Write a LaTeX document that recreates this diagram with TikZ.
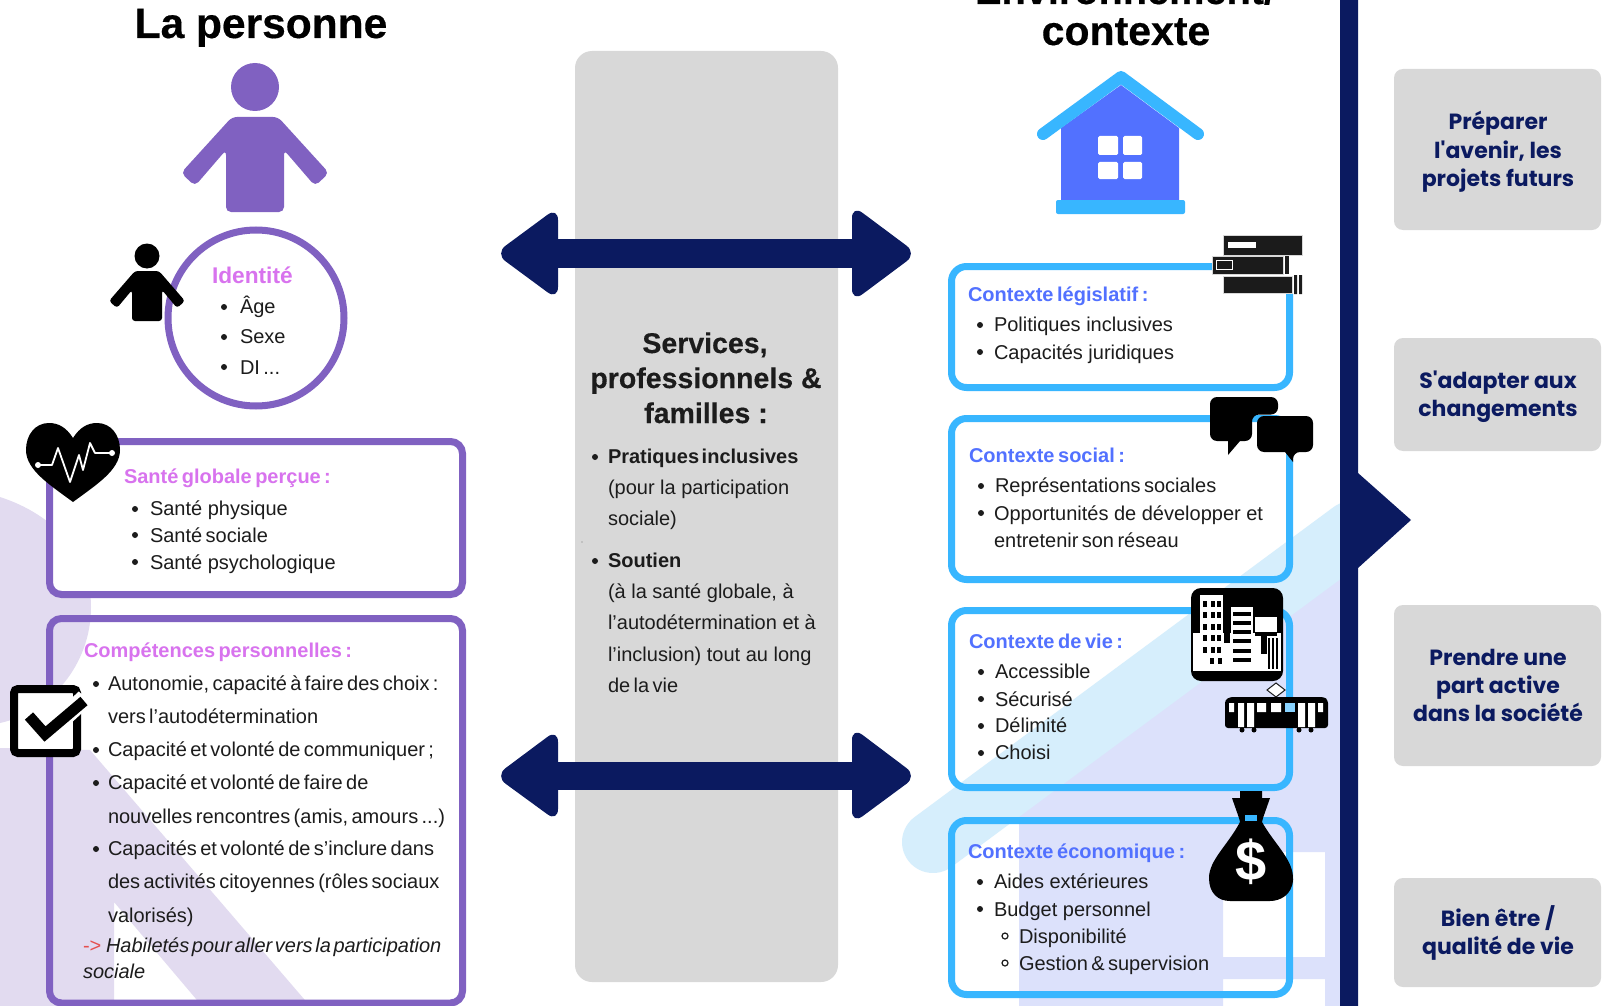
\documentclass[tikz,border=0pt]{standalone}
\usepackage{fontspec}
\setmainfont{Liberation Sans}
\newfontfamily\popf{Poppins}
\newfontfamily\titlef[BoldFeatures={FakeBold=0.4}]{Liberation Sans}
\definecolor{navy}{HTML}{0B1A60}
\definecolor{purp}{HTML}{8061C1}
\definecolor{pink}{HTML}{D873EE}
\definecolor{sky}{HTML}{38B6FF}
\definecolor{blu}{HTML}{5271FF}
\definecolor{gris}{HTML}{D8D8D8}
\definecolor{lav}{HTML}{E2DBF0}
\definecolor{lblu}{HTML}{DCE1FB}
\definecolor{stripe}{HTML}{D6EEFC}
\definecolor{ink}{HTML}{1C1C1C}
\definecolor{redd}{HTML}{E5504F}
\newcommand{\tspa}{\spaceskip=.17em\relax}
\newcommand{\tspb}{\spaceskip=.13em\relax}
\newcommand{\tspc}{\spaceskip=.18em\relax}
\tikzset{
 x=1pt,y=-1pt,
 every node/.style={inner sep=0pt,outer sep=0pt},
 body/.style={anchor=base west,text=ink,font=\fontsize{20}{24}\selectfont},
 tight/.style={anchor=base west,text=ink,font=\fontsize{20}{24}\selectfont,execute at begin node=\tspa},
 ital/.style={anchor=base west,text=ink,font=\fontsize{20}{24}\selectfont\itshape,execute at begin node=\tspb},
 bhead/.style={anchor=base west,text=ink,font=\fontsize{20}{24}\selectfont\bfseries,execute at begin node=\tspb},
 phead/.style={anchor=base west,text=pink,font=\fontsize{20}{24}\selectfont\bfseries,execute at begin node=\tspa},
 chead/.style={anchor=base west,text=blu,font=\fontsize{20}{24}\selectfont\bfseries,execute at begin node=\tspc},
 title/.style={anchor=base,text=black,font=\titlef\fontsize{41}{48}\selectfont\bfseries},
 stitle/.style={anchor=base,text=ink,font=\titlef\fontsize{28.5}{32}\selectfont\bfseries},
 rtxt/.style={anchor=base,text=navy,font=\popf\fontsize{22}{26}\selectfont\bfseries},
 pbox/.style={draw=purp,line width=7pt,rounded corners=12pt},
 cbox/.style={draw=sky,line width=7pt,rounded corners=15pt},
 gbox/.style={fill=gris,rounded corners=9pt},
 dhead/.style={fill=navy,rounded corners=13pt},
 bookc/.style={fill=ink!95!black,draw=gris,line width=0.8pt},
}
\newcommand{\Tx}[5]{\node[#1] (#2) at (#3,#4) {#5};}
\newcommand{\Bu}[2]{\fill[ink] (#1,#2) circle (3pt);}
\newcommand{\Bo}[2]{\draw[ink,line width=1.2pt] (#1,#2) circle (3pt);}
\begin{document}
\begin{tikzpicture}
\useasboundingbox (0,0) rectangle (1604,1006);
\fill[white] (0,0) rectangle (1604,1006);
% ---- backgrounds
\fill[lav] (0,497) .. controls (55,515) and (91,555) .. (91,607) .. controls (91,665) and (50,712) .. (0,723) -- cycle;
\fill[lav] (0,748) -- (90,750) -- (310,1006) -- (202,1006) -- (114,902) -- (114,1006) -- (0,1006) -- cycle;
\fill[lblu,even odd rule] (1019,808) -- (1340,575) -- (1340,1006) -- (1019,1006) -- cycle
  (1223,852) rectangle (1325,957) (1223,979) rectangle (1325,1006);
\begin{scope}
\clip (880,480) rectangle (1340,900);
\draw[stripe,line width=62pt,line cap=round] (933,842) -- (1352,532);
\end{scope}
% ---- grey column
\fill[gris,rounded corners=17pt] (575,51) rectangle (838,982);
% ---- double arrows
\fill[navy] (556,239) rectangle (854,268);
\fill[dhead] (852,205) -- (917,253.5) -- (852,302) -- cycle;
\fill[dhead] (558,207) -- (495,253.5) -- (558,300) -- cycle;
\fill[navy] (556,762) rectangle (854,790);
\fill[dhead] (852,727) -- (917,776) -- (852,824) -- cycle;
\fill[dhead] (558,729) -- (495,776) -- (558,822) -- cycle;
% ---- navy bar
\fill[navy] (1340,0) -- (1358,0) -- (1358,473) -- (1411,520) -- (1358,568) -- (1358,1006) -- (1340,1006) -- cycle;
% ---- right boxes
\fill[gbox] (1394,69) rectangle (1601,230);
\fill[gbox] (1394,338) rectangle (1601,451);
\fill[gbox] (1394,605) rectangle (1601,766);
\fill[gbox] (1394,878) rectangle (1601,987);
\Tx{rtxt}{r1a}{1498}{130}{Préparer}
\Tx{rtxt}{r1b}{1498}{158}{l'avenir, les}
\Tx{rtxt}{r1c}{1498}{186}{projets futurs}
\Tx{rtxt}{r2a}{1498}{388}{S'adapter aux}
\Tx{rtxt}{r2b}{1498}{416}{changements}
\Tx{rtxt}{r3a}{1498}{665}{Prendre une}
\Tx{rtxt}{r3b}{1498}{693}{part active}
\Tx{rtxt}{r3c}{1498}{721}{dans la société}
\Tx{rtxt}{r4a}{1498}{926}{Bien être /}
\Tx{rtxt}{r4b}{1498}{954}{qualité de vie}
% ---- titles
\Tx{title,font=\titlef\fontsize{42.5}{48}\selectfont\bfseries}{t1}{261}{38}{La personne}
\Tx{title,font=\titlef\fontsize{39.7}{48}\selectfont\bfseries}{t2a}{1125}{4}{Environnement/}
\Tx{title}{t2b}{1126}{45}{contexte}
% ---- purple person
\fill[purp] (255,87) circle (24pt);
\fill[purp,rounded corners=5pt] (232,117) -- (278,117) -- (329,173) -- (315,186) -- (284,150) -- (284,212) -- (226,212) -- (226,150) -- (195,186) -- (181,173) -- cycle;
% ---- identity circle
\draw[purp,fill=white,line width=7pt] (256,318) circle (88pt);
\fill[black] (147,256) circle (12.5pt);
\fill[black,rounded corners=3pt] (135,271) -- (159,271) -- (185,301) -- (177,308) -- (162,290) -- (162,321) -- (132,321) -- (132,290) -- (117,308) -- (109,301) -- cycle;
\Tx{phead,font=\fontsize{22.7}{24}\selectfont\bfseries}{id}{212}{283}{Identité}
\Bu{224}{307}\Tx{body}{id1}{240}{313}{Âge}
\Bu{224}{337}\Tx{body}{id2}{240}{343}{Sexe}
\Bu{224}{367}\Tx{tight}{id3}{240}{374}{DI ...}
% ---- santé box
\draw[pbox,fill=white] (49.5,441.5) rectangle (462.5,594.5);
\fill[black] (73,438) .. controls (66,427) and (58,423) .. (49,423) .. controls (35,423) and (26,435) .. (26,450) .. controls (26,470) and (50,485) .. (73,502) .. controls (96,485) and (120,470) .. (120,450) .. controls (120,435) and (111,423) .. (97,423) .. controls (88,423) and (80,427) .. (73,438) -- cycle;
\draw[white,line width=1.8pt,line join=round] (38,465) -- (52,465) -- (58,448) -- (70,482) -- (79,455) -- (83,470) -- (90,443) -- (95,453) -- (112,453);
\fill[white] (38,465) circle (3pt) (112,453) circle (3pt);
\Tx{phead}{sa}{124}{483.5}{Santé globale perçue :}
\Bu{135}{509}\Tx{body}{sa1}{150}{515}{Santé physique}
\Bu{135}{535}\Tx{tight}{sa2}{150}{542}{Santé sociale}
\Bu{135}{562}\Tx{body}{sa3}{150}{569}{Santé psychologique}
% ---- compétences box
\draw[pbox] (49.5,618.5) rectangle (462.5,1003);
\Tx{phead}{co}{84}{657}{Compétences personnelles :}
\Bu{96}{684}\Tx{tight}{c1a}{108}{690}{Autonomie, capacité à faire des choix :}
\Tx{tight}{c1b}{108}{723}{vers l’autodétermination}
\Bu{96}{750}\Tx{tight}{c2}{108}{756}{Capacité et volonté de communiquer ;}
\Bu{96}{783}\Tx{tight}{c3a}{108}{789}{Capacité et volonté de faire de}
\Tx{tight}{c3b}{108}{823}{nouvelles rencontres (amis, amours ...)}
\Bu{96}{849}\Tx{tight}{c4a}{108}{855}{Capacités et volonté de s’inclure dans}
\Tx{tight}{c4b}{108}{888}{des activités citoyennes (rôles sociaux}
\Tx{tight}{c4c}{108}{922}{valorisés)}
\Tx{body,text=redd}{ar}{83}{952}{->}
\Tx{ital}{c5a}{106}{952}{Habiletés pour aller vers la participation}
\Tx{ital}{c5b}{83}{978}{sociale}
% ---- checkbox
\draw[black,fill=white,line width=8pt,rounded corners=4pt] (14,689) rectangle (77,753);
\draw[white,line width=18pt] (31,718) -- (45,735) -- (85,698);
\draw[black,line width=11pt] (29,716) -- (45,734) -- (84,701);
% ---- services text
\Tx{stitle}{s1}{705}{353}{Services,}
\Tx{stitle}{s2}{706}{388}{professionnels \&}
\Tx{stitle}{s3}{706}{423}{familles :}
\Bu{595}{457}\Tx{bhead}{s4}{608}{463}{Pratiques inclusives}
\Tx{body}{s5}{608}{494}{(pour la participation}
\Tx{body}{s6}{608}{525}{sociale)}
\fill[ink!60] (582,542) circle (0.6pt);
\Bu{595}{561}\Tx{bhead}{s7}{608}{567}{Soutien}
\Tx{body}{s8}{608}{598}{(à la santé globale, à}
\Tx{body}{s9}{608}{629}{l'autodétermination et à}
\Tx{body}{s10}{608}{661}{l'inclusion) tout au long}
\Tx{tight}{s11}{608}{692}{de la vie}
% ---- house
\fill[blu] (1061,128) -- (1121,85) -- (1179,128) -- (1179,201) -- (1061,201) -- cycle;
\draw[sky,line width=12pt,line cap=round,line join=round] (1043,134) -- (1121,77) -- (1198,134);
\fill[sky,rounded corners=2pt] (1056,200) rectangle (1185,214);
\fill[white,rounded corners=1.5pt] (1098,136) rectangle (1118,155) (1123,136) rectangle (1142,155) (1098,162) rectangle (1118,179) (1123,162) rectangle (1142,179);
% ---- context boxes
\draw[cbox] (951.5,266.5) rectangle (1289.5,387.5);
\draw[cbox] (951.5,418.5) rectangle (1289.5,579.5);
\draw[cbox] (951.5,610.5) rectangle (1289.5,787.5);
\draw[cbox] (951.5,820.5) rectangle (1289.5,994.5);
% ---- books icon
\fill[white] (1212,235) rectangle (1303,294);
\fill[bookc] (1223,235) rectangle (1302,255);
\fill[white] (1228,242) rectangle (1256,248);
\fill[bookc] (1212,256) rectangle (1283,274);
\draw[white,line width=1pt] (1216,260) rectangle (1232,269);
\fill[ink] (1285,256) rectangle (1289,274);
\fill[bookc] (1223,276) rectangle (1292,293);
\fill[ink] (1294,275) rectangle (1297,294) (1299,275) rectangle (1302,294);
% ---- speech bubbles
\fill[black,rounded corners=7pt] (1210,397) -- (1278,397) -- (1278,414.5) -- (1252,414.5) -- (1252,441) [sharp corners] -- (1240,441) -- (1228,455) -- (1228,441) [rounded corners=7pt] -- (1210,441) -- cycle;
\fill[black,rounded corners=7pt] (1257,416) -- (1313,416) -- (1313,452) -- (1293,452) [sharp corners] -- (1293,462) -- (1285,452) [rounded corners=7pt] -- (1257,452) -- cycle;
\Tx{chead}{l0}{968}{301}{Contexte législatif :}
\Bu{980}{325}\Tx{body}{l1}{994}{331}{Politiques inclusives}
\Bu{980}{352}\Tx{body}{l2}{994}{359}{Capacités juridiques}
\Tx{chead}{so0}{969}{462}{Contexte social :}
\Bu{981}{486}\Tx{tight}{so1}{995}{492}{Représentations sociales}
\Bu{981}{513}\Tx{body}{so2}{994}{520}{Opportunités de développer et}
\Tx{tight}{so3}{994}{547}{entretenir son réseau}
\Tx{chead}{v0}{969}{648}{Contexte de vie :}
\Bu{981}{672}\Tx{body}{v1}{995}{678}{Accessible}
\Bu{981}{699}\Tx{body}{v2}{995}{706}{Sécurisé}
\Bu{981}{726}\Tx{body}{v3}{995}{732}{Délimité}
\Bu{981}{753}\Tx{body}{v4}{995}{759}{Choisi}
\Tx{chead}{e0}{968}{858}{Contexte économique :}
\Bu{980}{882}\Tx{body}{e1}{994}{888}{Aides extérieures}
\Bu{980}{909}\Tx{body}{e2}{994}{916}{Budget personnel}
\Bo{1005}{936}\Tx{body}{e3}{1019}{943}{Disponibilité}
\Bo{1005}{963}\Tx{tight}{e4}{1019}{970}{Gestion \& supervision}
% ---- city icon
\fill[black,rounded corners=10pt] (1191,588) rectangle (1283,681);
\fill[white] (1193,633) rectangle (1281,671);
\fill[white] (1200,595) rectangle (1223,640);
\fill[white] (1231,607) rectangle (1253,671);
\fill[white] (1255,617) rectangle (1277,654);
\fill[black] (1224,633) rectangle (1230,643);
\fill[black] (1255,632) rectangle (1277,636);
\fill[black] (1261,636) rectangle (1267,654);
\fill[white] (1267,636) rectangle (1281,671);
\foreach \yy in {601,612,624,635,647} \foreach \xx in {1203,1211,1217} \fill[black] (\xx,\yy) rectangle ++(4,6);
\foreach \xx in {1210,1218} \fill[black] (\xx,658) rectangle ++(4,6);
\foreach \yy in {612,621,630,639,649,658} \fill[black] (1233,\yy) rectangle ++(18,4);
\foreach \xx in {1268,1272,1276} \fill[black] (\xx,638) rectangle ++(1.6,31);
% ---- tram icon
\draw[ink,line width=1pt,fill=white] (1276,683) -- (1285,690) -- (1276,697) -- (1267,690) -- cycle;
\fill[black,rounded corners=3pt] (1225,700) -- (1230,697) -- (1324,697) -- (1328,700) -- (1328,728) -- (1225,728) -- cycle;
\fill[white] (1229,703) rectangle (1234,712) (1238,703) rectangle (1244,727) (1247,703) rectangle (1254,727)
 (1257,703) rectangle (1266,712) (1271,703) rectangle (1281,712);
\fill[sky!60!white] (1285,703) rectangle (1295,712);
\fill[white] (1298,703) rectangle (1305,727) (1308,703) rectangle (1315,727) (1318,703) rectangle (1323,712);
\fill[black] (1242,730) circle (2.5pt) (1254,730) circle (2.5pt) (1299,730) circle (2.5pt) (1311,730) circle (2.5pt);
% ---- money bag
\fill[black] (1240,791) -- (1262,791) -- (1262,798) -- (1270,798) -- (1263,818) -- (1262,822) .. controls (1275,845) and (1294,860) .. (1293,880) .. controls (1292,895) and (1280,901) .. (1270,901) -- (1230,901) .. controls (1218,901) and (1209,893) .. (1209,878) .. controls (1209,860) and (1228,845) .. (1240,822) -- (1239,818) -- (1232,798) -- (1240,798) -- cycle;
\fill[sky] (1245,815) rectangle (1257,821);
\node[anchor=center,text=white,font=\fontsize{56}{60}\selectfont\bfseries] (dollar) at (1251,862) {\$};
\end{tikzpicture}
\end{document}
